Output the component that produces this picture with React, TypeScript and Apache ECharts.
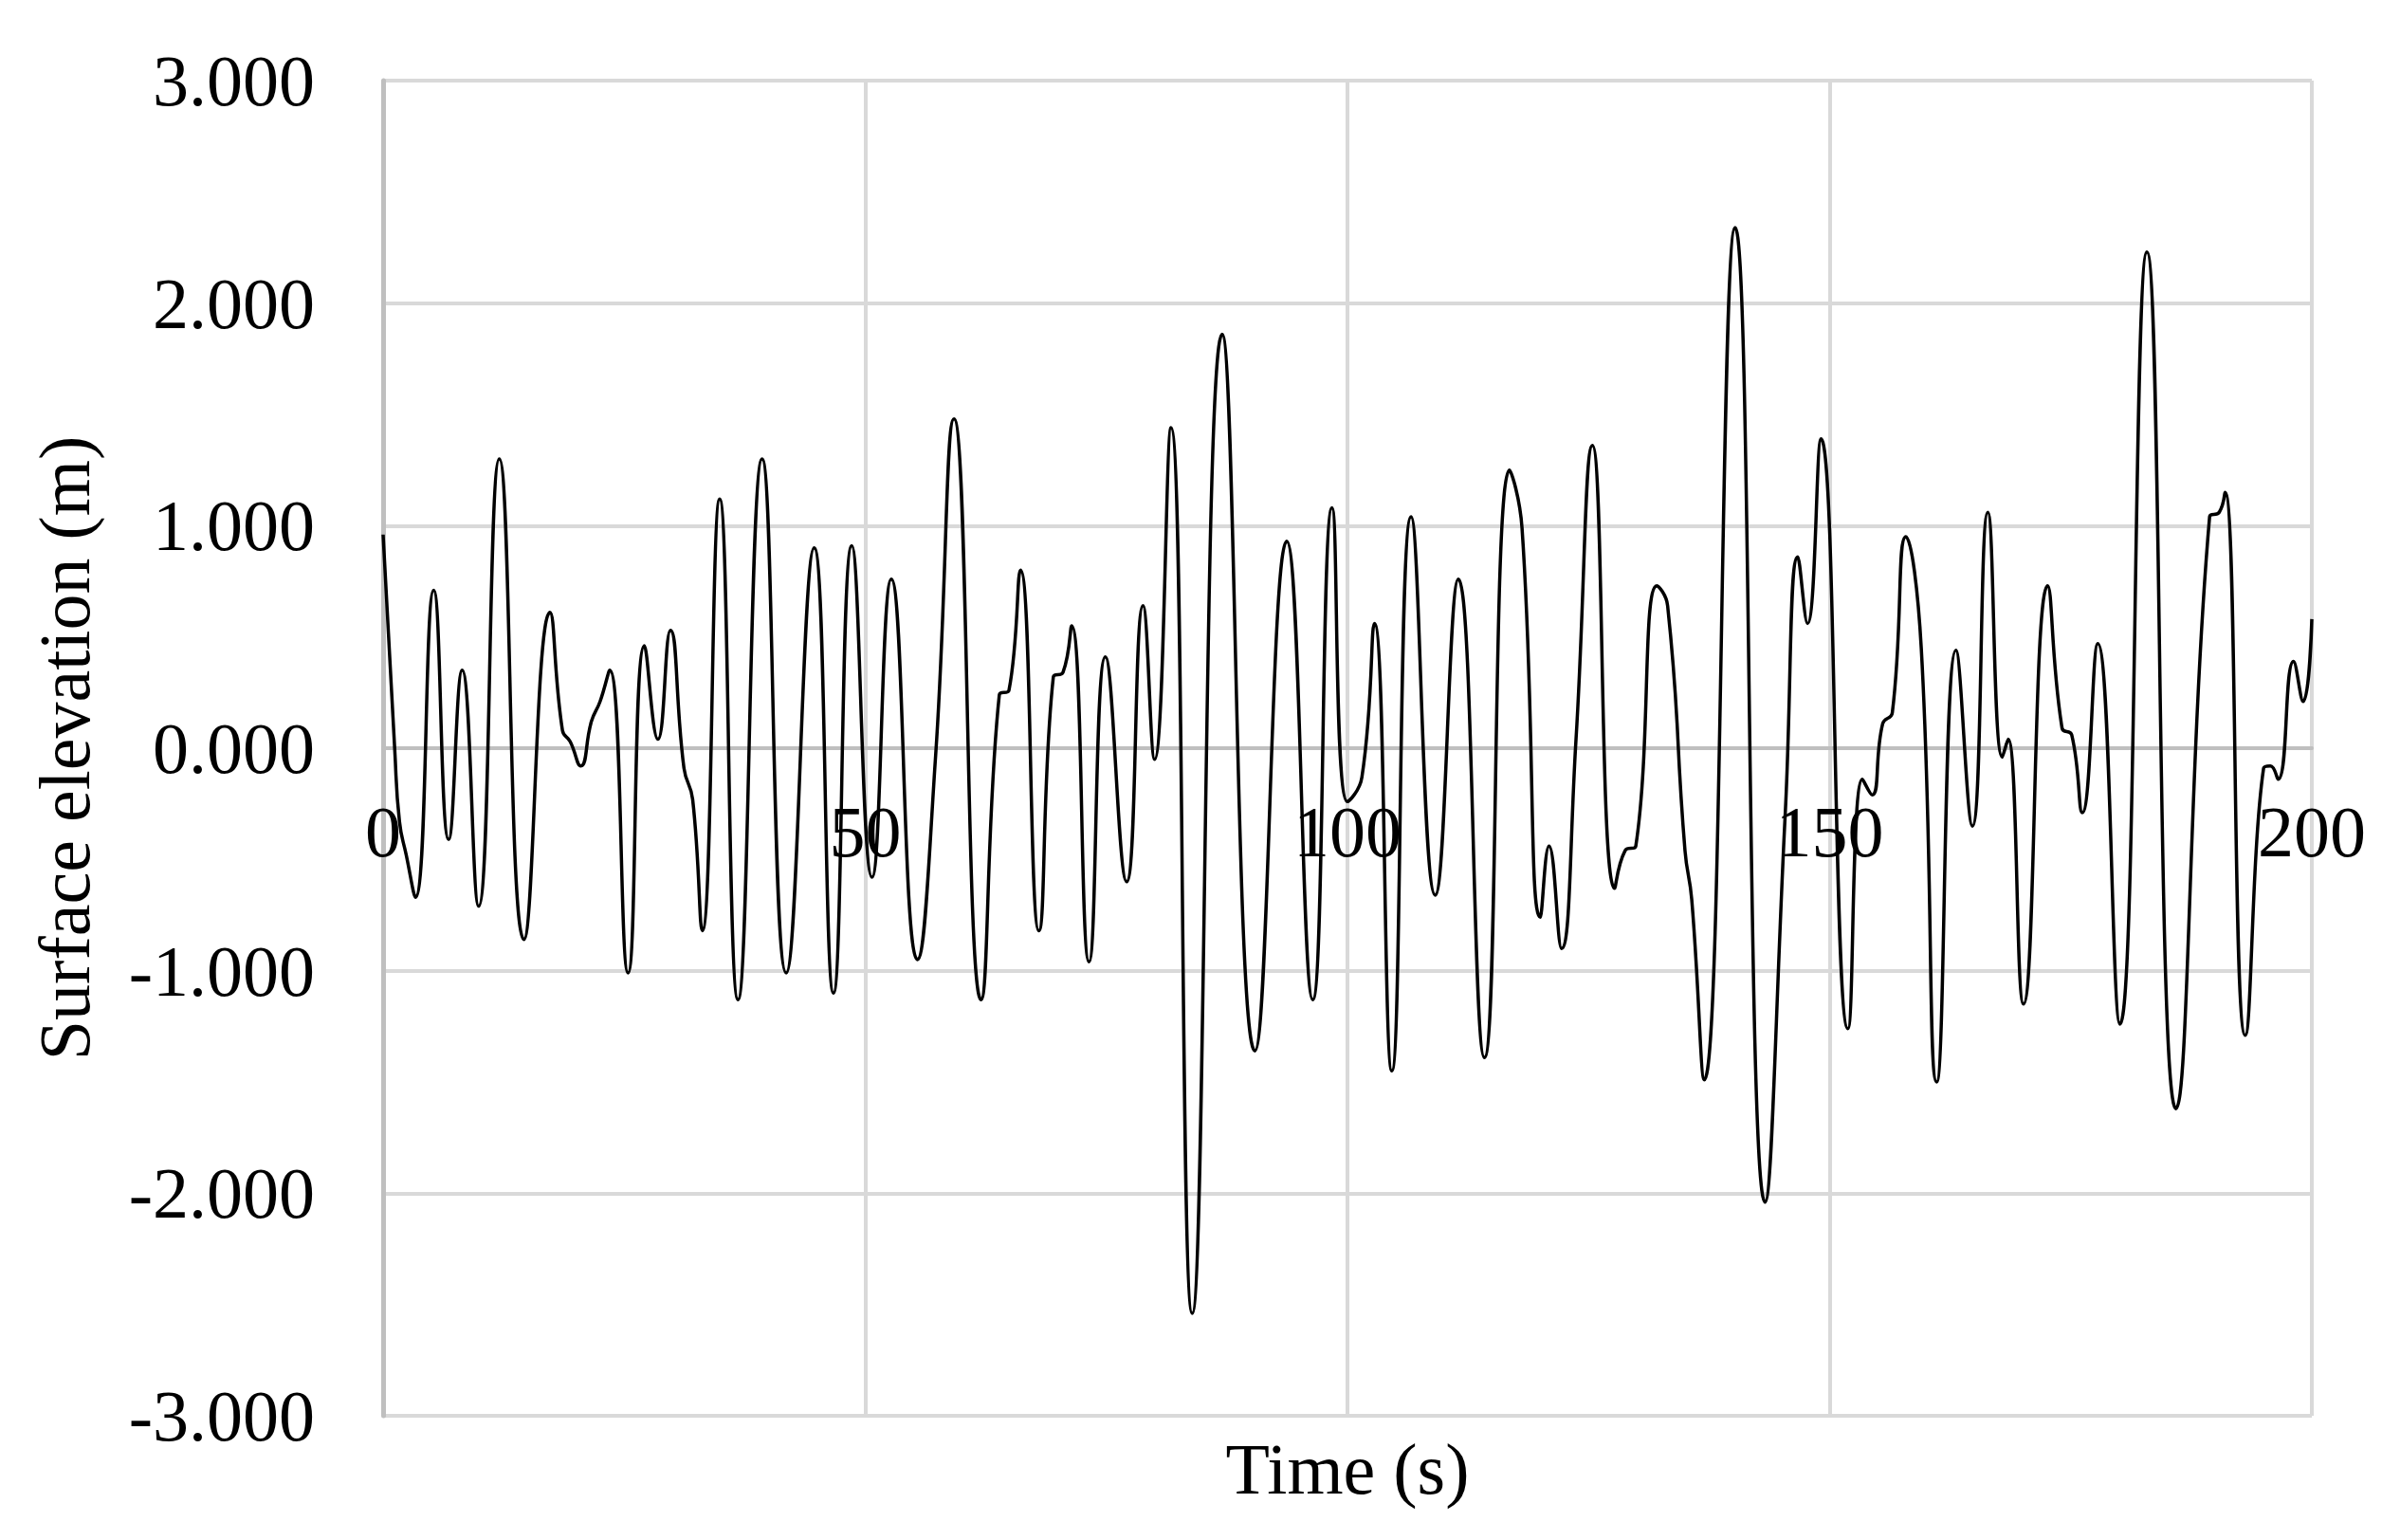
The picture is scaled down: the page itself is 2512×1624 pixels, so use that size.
import React, { useEffect, useRef } from "react";
import * as echarts from "echarts";

// Time (s) of each read point
const timeS = [
  0.0, 1.2, 1.7, 2.4, 3.35, 5.25, 6.8, 8.2, 9.9, 12.05, 14.6, 17.3, 18.6, 19.4, 20.5,
  21.6, 22.5, 23.5, 25.4, 27.1, 28.5, 29.8, 31.2, 32.1, 33.1, 34.9, 36.8, 39.3,
  41.8, 44.7, 46.7, 48.6, 50.7, 52.7, 55.4, 57.3, 59.2, 62.0, 63.9, 64.9, 66.1,
  68.0, 69.5, 70.5, 71.4, 73.2, 74.9, 77.1, 78.8, 80.0, 81.7, 83.9, 87.0, 90.4,
  93.7, 96.4, 98.4, 100.0, 101.5, 102.8, 104.6, 106.6, 109.1, 111.5, 114.2, 116.8,
  118.1, 120.0, 120.9, 122.2, 123.7, 125.4, 127.7, 128.8, 129.9, 132.1, 133.2,
  135.0, 135.7, 137.0, 140.2, 143.3, 145.4, 146.7, 147.7, 149.1, 151.9, 153.4,
  154.4, 155.5, 156.5, 157.9, 159.5, 161.1, 163.1, 164.8, 166.4, 167.9, 168.5,
  170.1, 172.6, 174.1, 175.1, 176.2, 177.8, 180.1, 182.9, 185.9, 189.4, 190.4,
  191.0, 193.1, 195.0, 195.7, 196.5, 198.1, 199.1, 200.0,
];

// Surface elevation (m) at each read point
const elevationM = [
  0.96, 0.0, -0.33, -0.48, -0.67, 0.71, -0.41, 0.35, -0.71, 1.3, -0.86, 0.61, 0.08, 0.03, -0.08,
  0.12, 0.21, 0.35, -1.01, 0.46, 0.04, 0.53, -0.09, -0.23, -0.82, 1.12, -1.13, 1.3,
  -1.01, 0.9, -1.1, 0.91, -0.58, 0.76, -0.95, -0.03, 1.48, -1.13, 0.24, 0.26, 0.8,
  -0.82, 0.32, 0.34, 0.55, -0.96, 0.41, -0.6, 0.64, -0.05, 1.44, -2.54, 1.86, -1.36,
  0.93, -1.13, 1.08, -0.24, -0.13, 0.56, -1.45, 1.04, -0.66, 0.76, -1.39, 1.25,
  0.99, -0.76, -0.44, -0.9, 0.04, 1.36, -0.63, -0.46, -0.44, 0.73, 0.64,
  -0.46, -0.68, -1.49, 2.34, -2.04, -0.29, 0.86, 0.56, 1.39, -1.26, -0.14,
  -0.21, 0.11, 0.16, 0.95, 0.45, -1.5, 0.44, -0.35, 1.06, -0.04, 0.04,
  -1.15, 0.73, 0.09, 0.06, -0.29, 0.47, -1.24, 2.23, -1.62, 1.04, 1.06,
  1.15, -1.29, -0.09, -0.08, -0.14, 0.39, 0.21, 0.58,
];

const xTickMin = 0;
const xTickMax = 200;
const xTickStep = 50;
const yTickMin = -3;
const yTickMax = 3;
const yTickStep = 1;

const xTitle = "Time (s)";
const yTitle = "Surface elevation (m)";

export default function App() {
  const ref = useRef<HTMLDivElement>(null);

  useEffect(() => {
    if (!ref.current) return;
    const chart = echarts.init(ref.current, null, { renderer: "svg" });
    const font = '"Liberation Serif", "Times New Roman", serif';
    const fontSize = 76;
    const gridTop = 85;
    const gridHeight = 1408;

    chart.setOption({
      animation: false,
      backgroundColor: "#ffffff",
      grid: { left: 404, top: gridTop, width: 2034, height: gridHeight, containLabel: false },
      xAxis: {
        type: "value",
        min: xTickMin,
        max: xTickMax,
        interval: xTickStep,
        position: "bottom",
        // place the axis (line + labels) at the elevation = 0 line
        offset: -gridHeight * (0 - yTickMin) / (yTickMax - yTickMin),
        axisLine: { show: true, onZero: false, lineStyle: { color: "#bfbfbf", width: 4 } },
        axisTick: { show: false },
        axisLabel: {
          color: "#000000",
          fontFamily: font,
          fontSize,
          margin: 50,
        },
        splitLine: { show: true, lineStyle: { color: "#d9d9d9", width: 4 } },
      },
      yAxis: {
        type: "value",
        min: yTickMin,
        max: yTickMax,
        interval: yTickStep,
        axisLine: { show: true, onZero: false, lineStyle: { color: "#bfbfbf", width: 5 } },
        axisTick: { show: false },
        axisLabel: {
          color: "#000000",
          fontFamily: font,
          fontSize,
          margin: 72,
          formatter: (v: number) => v.toFixed(3),
        },
        splitLine: { show: true, lineStyle: { color: "#d9d9d9", width: 4 } },
      },
      series: [
        {
          type: "line",
          data: timeS.map((t, i) => [t, elevationM[i]]),
          symbol: "none",
          showSymbol: false,
          smooth: 0.5,
          lineStyle: { color: "#000000", width: 3.5 },
          z: 3,
        },
      ],
      graphic: [
        {
          type: "text",
          x: 1421,
          y: 1549,
          style: {
            text: xTitle,
            font: `${fontSize}px ${font}`,
            fill: "#000000",
            textAlign: "center",
            textVerticalAlign: "middle",
          },
        },
        {
          type: "text",
          x: 68,
          y: 789,
          rotation: Math.PI / 2,
          style: {
            text: yTitle,
            font: `${fontSize}px ${font}`,
            fill: "#000000",
            textAlign: "center",
            textVerticalAlign: "middle",
          },
        },
      ],
    });

    return () => chart.dispose();
  }, []);

  return (
    <div
      ref={ref}
      style={{ position: "fixed", left: 0, top: 0, width: 2512, height: 1624 }}
    />
  );
}
